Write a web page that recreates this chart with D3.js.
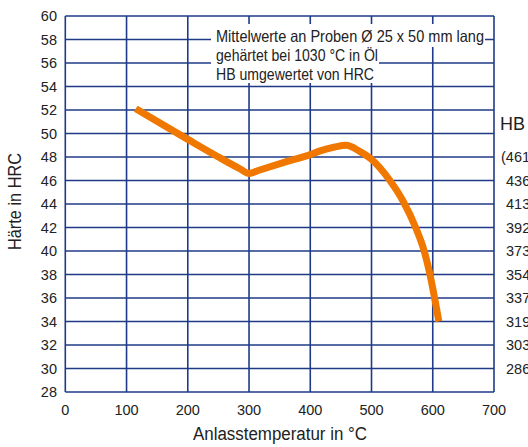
<!DOCTYPE html>
<html>
<head>
<meta charset="utf-8">
<script src="https://cdn.jsdelivr.net/npm/d3@7"></script>
<style>
html,body{margin:0;padding:0;background:#fff;}
svg{display:block;}
</style>
</head>
<body>
<svg id="c" width="528" height="447"></svg>
<script>
// Data
const temps = [115, 200, 250, 285, 300, 315, 361, 400, 415, 440, 459, 480, 500, 530, 551, 572, 586, 595, 603, 610];
const hrc   = [52.1, 49.5, 48.0, 47.0, 46.6, 46.85, 47.6, 48.2, 48.5, 48.85, 49.0, 48.5, 47.8, 46.0, 44.3, 42.0, 40.0, 38.1, 36.0, 34.0];
const xTicks = [0, 100, 200, 300, 400, 500, 600, 700];
const yTicks = [28, 30, 32, 34, 36, 38, 40, 42, 44, 46, 48, 50, 52, 54, 56, 58, 60];
const hbValues = ["(461)", "436", "413", "392", "373", "354", "337", "319", "303", "286"];
const hbHrc = [48, 46, 44, 42, 40, 38, 36, 34, 32, 30];
const noteLines = ["Mittelwerte an Proben Ø 25 x 50 mm lang", "gehärtet bei 1030 °C in Öl", "HB umgewertet von HRC"];

const svg = d3.select("#c");
const x = d3.scaleLinear().domain([0, 700]).range([65.3, 494]);
const y = d3.scaleLinear().domain([28, 60]).range([392, 16]);
const grid = "#1f3b87";
const font = "'Liberation Sans', Arial, sans-serif";
const txt = "#222";

// grid
const g = svg.append("g");
g.selectAll("line.v").data(xTicks).join("line")
  .attr("x1", d => x(d)).attr("x2", d => x(d))
  .attr("y1", y(28)).attr("y2", y(60))
  .attr("stroke", grid).attr("stroke-width", 1.6);
g.selectAll("line.h").data(yTicks).join("line")
  .attr("y1", d => y(d)).attr("y2", d => y(d))
  .attr("x1", x(0)).attr("x2", x(700))
  .attr("stroke", grid).attr("stroke-width", 1.6);

// note box
svg.append("rect").attr("x", 211).attr("y", 24).attr("width", 274).attr("height", 23).attr("fill", "#fff");
svg.append("rect").attr("x", 211).attr("y", 46).attr("width", 168).attr("height", 37).attr("fill", "#fff");
const noteWidths = [268, 162, 158];
svg.append("g").selectAll("text").data(noteLines).join("text")
  .attr("x", 216).attr("y", (d, i) => 42 + i * 19)
  .attr("font-family", font).attr("font-size", 16.5).attr("fill", txt)
  .attr("textLength", (d, i) => noteWidths[i]).attr("lengthAdjust", "spacingAndGlyphs")
  .text(d => d);

// curve
const pts = temps.map((t, i) => [t, hrc[i]]);
svg.append("path").datum(pts)
  .attr("d", d3.line().x(d => x(d[0])).y(d => y(d[1])).curve(d3.curveMonotoneX))
  .attr("fill", "none").attr("stroke", "#f07800").attr("stroke-width", 7).attr("stroke-linecap", "butt");

// axes ticks
svg.append("g").selectAll("text").data(yTicks).join("text")
  .attr("x", 57).attr("y", d => y(d)).attr("dy", "0.36em")
  .attr("text-anchor", "end").attr("font-family", font).attr("font-size", 14.5).attr("fill", txt)
  .text(d => d);
svg.append("g").selectAll("text").data(xTicks).join("text")
  .attr("x", d => x(d)).attr("y", 415)
  .attr("text-anchor", "middle").attr("font-family", font).attr("font-size", 14.5).attr("fill", txt)
  .text(d => d);

// HB column
svg.append("text").attr("x", 500).attr("y", 130).attr("font-family", font).attr("font-size", 18).attr("fill", txt)
  .attr("textLength", 25).attr("lengthAdjust", "spacingAndGlyphs").text("HB");
svg.append("g").selectAll("text").data(hbValues).join("text")
  .attr("x", (d, i) => i === 0 ? 501 : 506).attr("y", (d, i) => y(hbHrc[i])).attr("dy", "0.36em")
  .attr("font-family", font).attr("font-size", 14.5).attr("fill", txt)
  .text(d => d);

// titles
svg.append("text").attr("x", 280).attr("y", 440).attr("text-anchor", "middle")
  .attr("font-family", font).attr("font-size", 18).attr("fill", txt)
  .attr("textLength", 174).attr("lengthAdjust", "spacingAndGlyphs").text("Anlasstemperatur in °C");
svg.append("text").attr("transform", "translate(21,201.5) rotate(-90)").attr("text-anchor", "middle")
  .attr("font-family", font).attr("font-size", 18).attr("fill", txt)
  .attr("textLength", 97).attr("lengthAdjust", "spacingAndGlyphs").text("Härte in HRC");
</script>
</body>
</html>
